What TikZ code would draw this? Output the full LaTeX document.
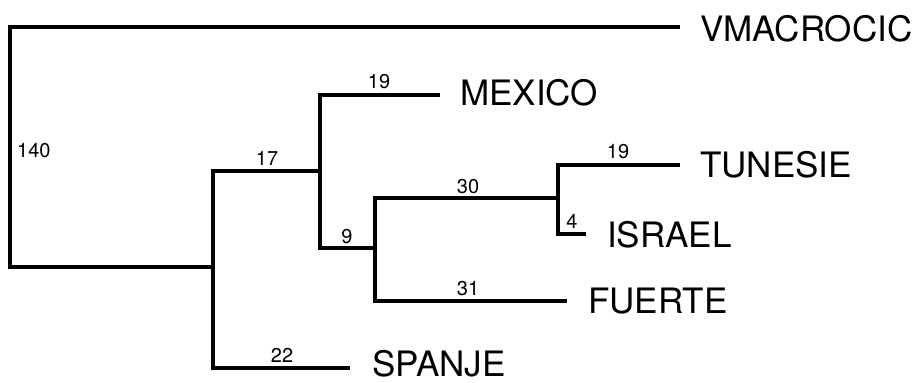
\documentclass[tikz,border=0pt]{standalone}
\usepackage{fontspec}
\setmainfont{TeX Gyre Heros}
\begin{document}
\begin{tikzpicture}[x=1pt,y=-1pt,
  branch/.style={line width=3.6pt,line cap=rect,line join=miter},
  taxon/.style={anchor=west,inner sep=0pt,font=\fontsize{35}{40}\selectfont},
  blen/.style={anchor=base,inner sep=0pt,font=\fontsize{20}{22}\selectfont}]
\useasboundingbox (0,0) rectangle (922,383);
% internal nodes and branch ends
\coordinate (R) at (10,267);
\coordinate (A) at (213,267);
\coordinate (B) at (320,171);
\coordinate (C) at (375,248);
\coordinate (D) at (558,198);
\coordinate (vmE) at (678,27);
\coordinate (mxE) at (438,95);
\coordinate (tuE) at (678,165);
\coordinate (isE) at (584,234);
\coordinate (fuE) at (565,301);
\coordinate (spE) at (348,368);
% taxa
\node[taxon] (vm) at (700,29) {VMACROCIC};
\node[taxon] (mx) at (460,93) {MEXICO};
\node[taxon] (tu) at (700,165) {TUNESIE};
\node[taxon] (is) at (607,235) {ISRAEL};
\node[taxon] (fu) at (588,301) {FUERTE};
\node[taxon] (sp) at (372,364) {SPANJE};
% branches
\draw[branch] (vmE) -| (R) -- (A);
\draw[branch] (B) -| (A) |- (spE);
\draw[branch] (mxE) -| (B) |- (C);
\draw[branch] (D) -| (C) |- (fuE);
\draw[branch] (tuE) -| (D) |- (isE);
% branch lengths
\node[blen,anchor=base west] (l140) at (17,157) {140};
\node[blen] (l17) at (267,165) {17};
\node[blen] (l19a) at (379,88) {19};
\node[blen] (l9) at (347,243) {9};
\node[blen] (l22) at (282,362) {22};
\node[blen] (l30) at (468,193) {30};
\node[blen] (l31) at (468,295) {31};
\node[blen] (l19b) at (618,158) {19};
\node[blen] (l4) at (572,228) {4};
\end{tikzpicture}
\end{document}
